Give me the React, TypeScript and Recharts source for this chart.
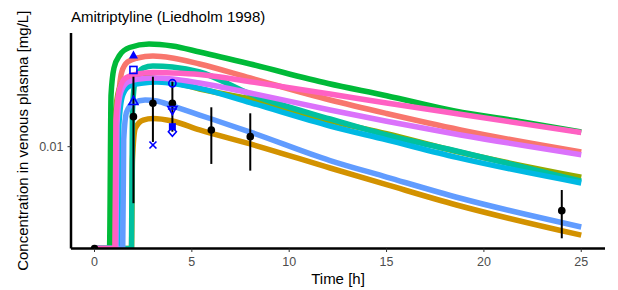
import React from 'react';
import { ComposedChart, Line, Scatter, ErrorBar, XAxis, YAxis } from 'recharts';

// concentration values in mg/L; 0 = below the log axis (drawn on the bottom edge)
type Pt = [number, number];

const SALMON: Pt[] = [[0, 0], [1.15, 0], [1.2, 0.01325], [1.4, 0.01774], [1.7, 0.01916], [2.2, 0.01975], [3, 0.02005], [4, 0.01975], [5.4, 0.01886], [8, 0.01694], [12.1, 0.01431], [15, 0.0129], [18.8, 0.01137], [25, 0.0096]];
const ORANGE: Pt[] = [[0, 0], [1.9, 0], [1.95, 0.00903], [2.1, 0.01154], [2.5, 0.01227], [3, 0.01242], [4, 0.01218], [5.4, 0.01137], [8, 0.01021], [12.1, 0.00849], [15, 0.00747], [18.6, 0.00639], [25, 0.00507]];
const OLIVE: Pt[] = [[0, 0], [1.0, 0], [1.05, 0.01227], [1.25, 0.01545], [1.6, 0.01682], [2.2, 0.01721], [3, 0.01694], [4, 0.01643], [5.4, 0.01557], [8, 0.01442], [12.1, 0.01218], [15, 0.01105], [18.6, 0.00964], [25, 0.00791]];
const GREEN: Pt[] = [[0, 0], [0.77, 0], [0.85, 0.01487], [1.0, 0.01829], [1.3, 0.02021], [1.8, 0.02141], [2.8, 0.02199], [4, 0.02166], [5.4, 0.02068], [8, 0.01886], [12, 0.01624], [15, 0.01479], [18.5, 0.01315], [22, 0.01209], [25, 0.01119]];
const TEAL: Pt[] = [[0, 0], [1.9, 0], [1.95, 0.01325], [2.1, 0.01669], [2.5, 0.01829], [3, 0.01858], [4, 0.01844], [5.4, 0.01774], [8, 0.01498], [12.1, 0.01237], [15, 0.01094], [18.8, 0.0096], [25, 0.00768]];
const CYAN: Pt[] = [[0, 0], [1.2, 0], [1.25, 0.01181], [1.45, 0.01487], [1.8, 0.01594], [2.5, 0.01631], [3.2, 0.01643], [4, 0.01624], [5.4, 0.01565], [8, 0.01402], [12.1, 0.01172], [15, 0.01054], [18.6, 0.00921], [25, 0.00757]];
const BLUE: Pt[] = [[0, 0], [1.45, 0], [1.5, 0.01053], [1.65, 0.01305], [2, 0.01398], [2.6, 0.01431], [3.2, 0.0142], [4, 0.01367], [5.4, 0.01275], [8, 0.01119], [12.1, 0.00899], [15, 0.00792], [18.8, 0.00673], [25, 0.0054]];
const VIOLET: Pt[] = [[0, 0], [1.1, 0], [1.15, 0.01181], [1.35, 0.01522], [1.7, 0.01643], [2.3, 0.01682], [3, 0.01694], [4, 0.01682], [5.4, 0.01631], [8, 0.0151], [12.1, 0.01325], [15, 0.01215], [18.8, 0.01094], [25, 0.0094]];
const PINK: Pt[] = [[0, 0], [1.05, 0], [1.1, 0.01227], [1.3, 0.01569], [1.6, 0.01694], [2.2, 0.01747], [3, 0.01767], [4, 0.01761], [5.4, 0.01741], [8, 0.01647], [12.1, 0.01498], [15, 0.01398], [18.7, 0.01285], [25, 0.01115]];

// observed mean +/- range
const MEAN_T = [0, 2, 3, 4, 6, 8, 24];
const MEAN_C = [0, 0.01259, 0.01395, 0.01395, 0.01137, 0.0108, 0.00612];
const MEAN_LO = [0, 0.00648, 0.01037, 0.01122, 0.00876, 0.00832, 0.00495];
const MEAN_HI = [0, 0.01711, 0.01711, 0.01647, 0.01353, 0.01292, 0.00717];

// individual observations
const IND_T = [2, 2, 2, 3, 4, 4, 4, 4];
const IND_C = [0.02021, 0.01802, 0.0142, 0.01013, 0.01627, 0.01325, 0.01166, 0.01122];
const IND_ID = ['s1', 's2', 's3', 's4', 's5', 's6', 's7', 's8'];

const X_TICKS = [0, 5, 10, 15, 20, 25];
const Y_TICKS = [0.01];

const YMIN = 0.004577;
const YMAX = 0.02393;
const FONT = '"Liberation Sans", Arial, sans-serif';
const MARK = '#0000FF';

// ggplot hue palette, drawn in factor order (pink ends on top)
const CURVES: { data: Pt[]; color: string }[] = [
  { data: SALMON, color: '#F8766D' },
  { data: ORANGE, color: '#D39200' },
  { data: OLIVE, color: '#93AA00' },
  { data: GREEN, color: '#00BA38' },
  { data: TEAL, color: '#00C19F' },
  { data: CYAN, color: '#00B9E3' },
  { data: BLUE, color: '#619CFF' },
  { data: VIOLET, color: '#DB72FB' },
  { data: PINK, color: '#FF61C3' },
];

const SHAPES: Record<string, string> = {
  s1: 'triFilled',
  s2: 'squareOpen',
  s3: 'triOpen',
  s4: 'cross',
  s5: 'circleOpen',
  s6: 'triDown',
  s7: 'squareFilled',
  s8: 'diamondOpen',
};

const clamp = (v: number) => Math.max(v, YMIN);
const toRows = (pts: Pt[]) => pts.map(([t, v]) => ({ t, v: clamp(v) }));

const meanRows = MEAN_T.map((t, i) => ({
  t,
  v: clamp(MEAN_C[i]),
  err: [MEAN_C[i] - MEAN_LO[i], MEAN_HI[i] - MEAN_C[i]],
}));
const indRows = IND_T.map((t, i) => ({ t, v: IND_C[i], id: IND_ID[i] }));

function Marker(props: any) {
  const { cx, cy, payload } = props;
  if (cx == null || cy == null) return null;
  const sw = 1.6;
  switch (SHAPES[payload.id]) {
    case 'triFilled':
      return <polygon points={`${cx},${cy - 4.5} ${cx - 4.5},${cy + 3.5} ${cx + 4.5},${cy + 3.5}`} fill={MARK} />;
    case 'triOpen':
      return <polygon points={`${cx},${cy - 4.5} ${cx - 4.5},${cy + 3.5} ${cx + 4.5},${cy + 3.5}`} fill="none" stroke={MARK} strokeWidth={sw} />;
    case 'triDown':
      return (
        <g>
          <polygon points={`${cx},${cy + 4.5} ${cx - 4.5},${cy - 3.5} ${cx + 4.5},${cy - 3.5}`} fill="none" stroke={MARK} strokeWidth={sw} />
          <line x1={cx - 4.5} x2={cx + 4.5} y1={cy - 1} y2={cy - 1} stroke={MARK} strokeWidth={sw} />
        </g>
      );
    case 'squareOpen':
      return <rect x={cx - 3.5} y={cy - 3.5} width={7} height={7} fill="none" stroke={MARK} strokeWidth={sw} />;
    case 'squareFilled':
      return <rect x={cx - 3.5} y={cy - 3.5} width={7} height={7} fill={MARK} />;
    case 'circleOpen':
      return <circle cx={cx} cy={cy} r={3.6} fill="none" stroke={MARK} strokeWidth={sw} />;
    case 'diamondOpen':
      return <polygon points={`${cx},${cy - 4.5} ${cx + 4},${cy} ${cx},${cy + 4.5} ${cx - 4},${cy}`} fill="none" stroke={MARK} strokeWidth={sw} />;
    case 'cross':
      return (
        <g stroke={MARK} strokeWidth={sw}>
          <line x1={cx - 3.5} y1={cy - 3.5} x2={cx + 3.5} y2={cy + 3.5} />
          <line x1={cx - 3.5} y1={cy + 3.5} x2={cx + 3.5} y2={cy - 3.5} />
        </g>
      );
    default:
      return null;
  }
}

function Dot(props: any) {
  const { cx, cy } = props;
  if (cx == null || cy == null) return null;
  return <circle cx={cx} cy={cy} r={3.8} fill="#000" />;
}

function XTitle(props: any) {
  const vb = props.viewBox;
  return (
    <text x={vb.x + vb.width / 2} y={vb.y + vb.height - 6} textAnchor="middle" fontSize={15} fill="#000" fontFamily={FONT}>
      Time [h]
    </text>
  );
}

function YTitle(props: any) {
  const vb = props.viewBox;
  const cy = vb.y + vb.height / 2;
  return (
    <text transform={`translate(28,${cy}) rotate(-90)`} textAnchor="middle" fontSize={15} fill="#000" fontFamily={FONT}>
      Concentration in venous plasma [mg/L]
    </text>
  );
}

export default function App() {
  return (
    <div style={{ position: 'absolute', left: 0, top: 0, width: 618, height: 290, background: '#fff', fontFamily: FONT }}>
      <div style={{ position: 'absolute', left: 71, top: 9, fontSize: 15, lineHeight: '15px', color: '#000', whiteSpace: 'nowrap' }}>
        Amitriptyline (Liedholm 1998)
      </div>
      <ComposedChart width={618} height={290} margin={{ top: 33, right: 13, bottom: 0, left: 0 }}>
        <XAxis
          type="number"
          dataKey="t"
          domain={[-1.207, 26.22]}
          ticks={X_TICKS}
          allowDataOverflow
          height={41.5}
          axisLine={{ stroke: '#000', strokeWidth: 2.5 }}
          tickLine={{ stroke: '#333' }}
          tickSize={3.5}
          tickMargin={5}
          tick={{ fill: '#4D4D4D', fontSize: 12.5, fontFamily: FONT }}
          label={XTitle}
        />
        <YAxis
          type="number"
          dataKey="v"
          scale="log"
          domain={[YMIN, YMAX]}
          ticks={Y_TICKS}
          allowDataOverflow
          width={71}
          axisLine={{ stroke: '#000', strokeWidth: 2.5 }}
          tickLine={{ stroke: '#333' }}
          tickSize={3.5}
          tickMargin={4}
          tick={{ fill: '#4D4D4D', fontSize: 12.5, fontFamily: FONT }}
          tickFormatter={(v: number) => String(v)}
          label={YTitle}
        />
        {CURVES.map((c, i) => (
          <Line
            key={i}
            data={toRows(c.data)}
            dataKey="v"
            type="monotone"
            stroke={c.color}
            strokeWidth={5.5}
            dot={false}
            activeDot={false}
            isAnimationActive={false}
          />
        ))}
        <Scatter data={meanRows} dataKey="v" shape={Dot} isAnimationActive={false}>
          <ErrorBar dataKey="err" direction="y" width={0} stroke="#000" strokeWidth={2} />
        </Scatter>
        <Scatter data={indRows} dataKey="v" shape={Marker} isAnimationActive={false} />
      </ComposedChart>
    </div>
  );
}
